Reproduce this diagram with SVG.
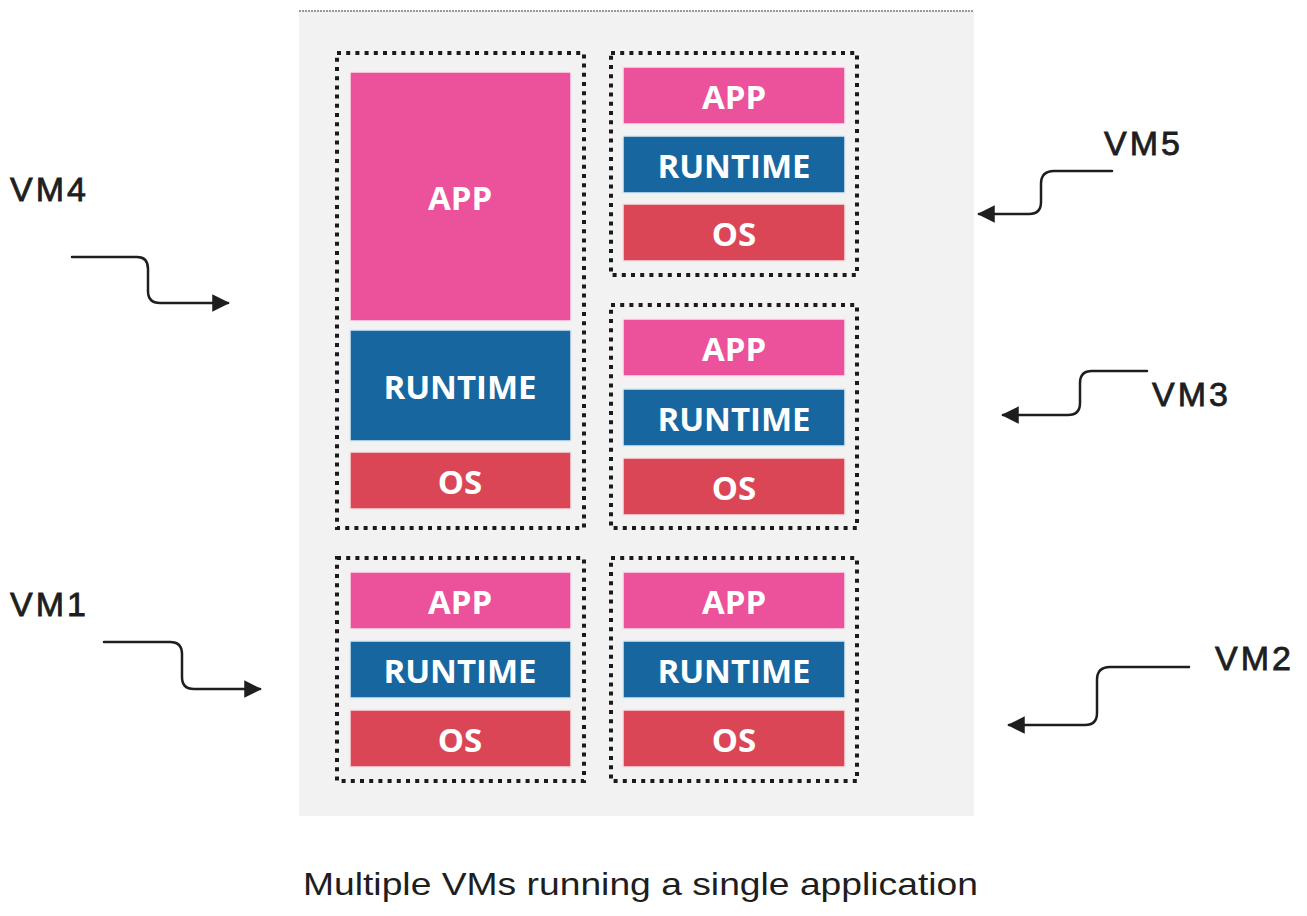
<svg xmlns="http://www.w3.org/2000/svg" width="1307" height="916" viewBox="0 0 1307 916">
<defs>
<style>
.bg{fill:#f2f2f2}
.vm{fill:none;stroke:#1a1a1a;stroke-width:4;stroke-dasharray:4 5.2}
.app{fill:#ec519b;stroke:#fde4ef;stroke-width:1.5}
.rt{fill:#17669f;stroke:#dcecf5;stroke-width:1.5}
.os{fill:#db4657;stroke:#fbe1e4;stroke-width:1.5}
.lt{font-family:"Open Sans",sans-serif;font-weight:700;font-size:33px;fill:#ffffff;text-anchor:middle;dominant-baseline:central}
.hw{font-family:"Liberation Sans",sans-serif;font-size:34px;fill:#1e1e1e;stroke:#1e1e1e;stroke-width:0.8;letter-spacing:3px}
.cap{font-family:"Liberation Sans",sans-serif;font-size:32px;fill:#1e1e1e}
.arr{fill:none;stroke:#1e1e1e;stroke-width:2.5;stroke-linecap:round;stroke-linejoin:round}
</style>
<marker id="ah" viewBox="0 0 10 10" refX="9" refY="5" markerWidth="7" markerHeight="7" markerUnits="strokeWidth" orient="auto">
<path d="M0 0 L10 5 L0 10 Z" fill="#1e1e1e"/>
</marker>
</defs>
<rect x="0" y="0" width="1307" height="916" fill="#ffffff"/>
<g id="screenshot">
<rect class="bg" x="299" y="11" width="675" height="805"/>
<line x1="299" y1="11" x2="974" y2="11" stroke="#999" stroke-width="2" stroke-dasharray="2 1"/>
</g>
<g id="vm4">
<rect class="vm" x="337" y="53" width="247" height="475"/>
<rect class="app" x="350" y="72" width="221" height="249"/>
<text class="lt" x="460" y="197">APP</text>
<rect class="rt" x="350" y="330" width="221" height="111"/>
<text class="lt" x="460" y="386">RUNTIME</text>
<rect class="os" x="350" y="452" width="221" height="57"/>
<text class="lt" x="460" y="481">OS</text>
</g>
<g id="vm5">
<rect class="vm" x="611" y="53" width="246" height="222"/>
<rect class="app" x="623" y="67" width="222" height="57"/>
<text class="lt" x="734" y="96">APP</text>
<rect class="rt" x="623" y="136" width="222" height="57"/>
<text class="lt" x="734" y="165">RUNTIME</text>
<rect class="os" x="623" y="204" width="222" height="57"/>
<text class="lt" x="734" y="233">OS</text>
</g>
<g id="vm3">
<rect class="vm" x="611" y="305" width="246" height="223"/>
<rect class="app" x="623" y="319" width="222" height="57"/>
<text class="lt" x="734" y="348">APP</text>
<rect class="rt" x="623" y="389" width="222" height="57"/>
<text class="lt" x="734" y="418">RUNTIME</text>
<rect class="os" x="623" y="458" width="222" height="57"/>
<text class="lt" x="734" y="487">OS</text>
</g>
<g id="vm1">
<rect class="vm" x="337" y="558" width="247" height="223"/>
<rect class="app" x="350" y="572" width="221" height="57"/>
<text class="lt" x="460" y="601">APP</text>
<rect class="rt" x="350" y="641" width="221" height="57"/>
<text class="lt" x="460" y="670">RUNTIME</text>
<rect class="os" x="350" y="710" width="221" height="57"/>
<text class="lt" x="460" y="739">OS</text>
</g>
<g id="vm2">
<rect class="vm" x="611" y="558" width="246" height="223"/>
<rect class="app" x="623" y="572" width="222" height="57"/>
<text class="lt" x="734" y="601">APP</text>
<rect class="rt" x="623" y="641" width="222" height="57"/>
<text class="lt" x="734" y="670">RUNTIME</text>
<rect class="os" x="623" y="710" width="222" height="57"/>
<text class="lt" x="734" y="739">OS</text>
</g>
<g id="labels">
<text class="hw" x="10" y="201">VM4</text>
<text class="hw" x="1104" y="155">VM5</text>
<text class="hw" x="1152" y="406">VM3</text>
<text class="hw" x="10" y="616">VM1</text>
<text class="hw" x="1215" y="670">VM2</text>
<text class="cap" x="303" y="895" textLength="675" lengthAdjust="spacingAndGlyphs">Multiple VMs running a single application</text>
</g>
<g id="connectors">
<path class="arr" marker-end="url(#ah)" d="M72 257 L137 257 Q148 257 148 269 L148 291 Q148 303 160 303 L228 303"/>
<path class="arr" marker-end="url(#ah)" d="M1112 171 L1054 171 Q1041 171 1041 184 L1041 202 Q1041 214 1029 214 L979 214"/>
<path class="arr" marker-end="url(#ah)" d="M1147 371 L1092 371 Q1080 371 1080 383 L1080 403 Q1080 415 1068 415 L1003 415"/>
<path class="arr" marker-end="url(#ah)" d="M104 642 L170 642 Q182 642 182 654 L182 677 Q182 689 194 689 L260 689"/>
<path class="arr" marker-end="url(#ah)" d="M1189 667 L1110 667 Q1097 667 1097 680 L1097 713 Q1097 725 1085 725 L1009 725"/>
</g>
</svg>
